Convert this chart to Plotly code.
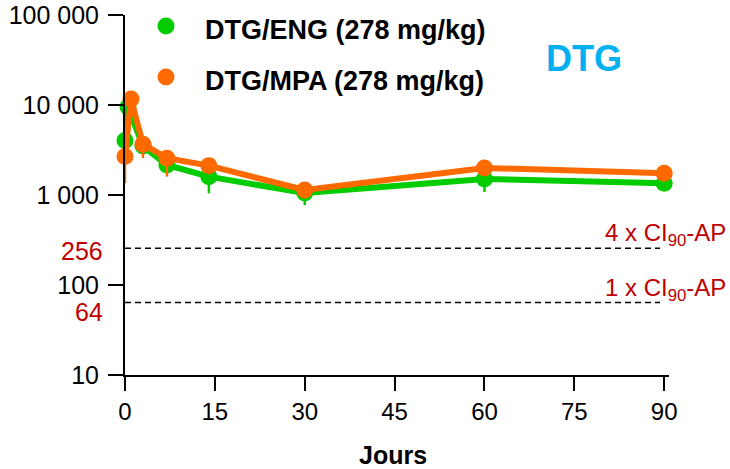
import plotly.graph_objects as go

# Sampling days and concentrations (ng/mL)
days_eng = [0, 0.5, 3, 7, 14, 30, 60, 90]
conc_eng = [4030, 9500, 3500, 2160, 1600, 1052, 1508, 1350]
err_eng_minus = [0, 0, 0, 0, 555, 278, 430, 0]

days_mpa = [0, 1, 3, 7, 14, 30, 60, 90]
conc_mpa = [2670, 11650, 3670, 2565, 2120, 1137, 2000, 1745]
err_mpa_minus = [1320, 0, 1100, 965, 0, 0, 0, 0]

# Reference thresholds (4x and 1x IC90 protein-adjusted)
thresholds = [256, 64]
threshold_labels = ["4 x CI<sub>90</sub>-AP", "1 x CI<sub>90</sub>-AP"]

y_tickvals = [10, 100, 1000, 10000, 100000]
y_ticktext = ["10", "100", "1 000", "10 000", "100 000"]
x_tickvals = [0, 15, 30, 45, 60, 75, 90]

GREEN = "#00CC00"
ORANGE = "#FF6A00"
RED = "#C00000"
BLUE = "#00B0F0"
FONT = "Liberation Sans, Arial, sans-serif"

W, H = 730, 469
ML, MR, MT, MB = 125, 61, 15, 94
PW = W - ML - MR
PH = H - MT - MB


def px(xp):
    return (xp - ML) / PW


def py(yp):
    return (H - MB - yp) / PH


fig = go.Figure()

# dashed threshold lines
for t in thresholds:
    fig.add_trace(go.Scatter(
        x=[0, 89.3], y=[t, t], mode="lines",
        line=dict(color="black", width=1.6, dash="6px,4px"),
        showlegend=False, hoverinfo="skip", cliponaxis=False,
    ))

for xs, ys, em, col in [
    (days_eng, conc_eng, err_eng_minus, GREEN),
    (days_mpa, conc_mpa, err_mpa_minus, ORANGE),
]:
    fig.add_trace(go.Scatter(
        x=xs, y=ys, mode="lines+markers",
        line=dict(color=col, width=6),
        marker=dict(color=col, size=17),
        error_y=dict(type="data", symmetric=False, array=[0] * len(ys),
                     arrayminus=em, color=col, thickness=2.5, width=0),
        showlegend=False, cliponaxis=False,
    ))

annotations = []
# threshold texts
for lab, base in zip(threshold_labels, [241.7, 296.7]):
    annotations.append(dict(
        text=lab, xref="paper", yref="paper", x=px(728), y=py(base - 7.5),
        xanchor="right", yanchor="middle", showarrow=False,
        font=dict(family=FONT, size=24, color=RED),
    ))
# red value labels beside the axis
for t, yc in zip(thresholds, [251, 312]):
    annotations.append(dict(
        text=str(t), xref="paper", yref="paper", x=px(105), y=py(yc),
        xanchor="right", yanchor="middle", showarrow=False,
        font=dict(family=FONT, size=25, color=RED),
    ))
# legend
for name, yc in [("DTG/ENG (278 mg/kg)", 30), ("DTG/MPA (278 mg/kg)", 81)]:
    annotations.append(dict(
        text="<b>" + name + "</b>", xref="paper", yref="paper",
        x=px(203), y=py(yc), xanchor="left", yanchor="middle",
        showarrow=False, font=dict(family=FONT, size=27, color="black"),
    ))
annotations.append(dict(
    text="<b>DTG</b>", xref="paper", yref="paper", x=px(584), y=py(58),
    xanchor="center", yanchor="middle", showarrow=False,
    font=dict(family=FONT, size=36, color=BLUE),
))
annotations.append(dict(
    text="<b>Jours</b>", xref="paper", yref="paper", x=px(393), y=py(455),
    xanchor="center", yanchor="middle", showarrow=False,
    font=dict(family=FONT, size=25, color="black"),
))

shapes = []
for col, yc in [(GREEN, 26), (ORANGE, 77)]:
    shapes.append(dict(
        type="circle", xref="paper", yref="paper",
        xsizemode="pixel", ysizemode="pixel",
        xanchor=px(166), yanchor=py(yc),
        x0=-8.5, x1=8.5, y0=-8.5, y1=8.5,
        fillcolor=col, line=dict(width=0),
    ))

fig.update_layout(
    width=W, height=H,
    margin=dict(l=ML, r=MR, t=MT, b=MB, pad=0),
    paper_bgcolor="white", plot_bgcolor="white",
    font=dict(family=FONT, size=25, color="black"),
    annotations=annotations, shapes=shapes,
    xaxis=dict(
        range=[0, 90.8], tickvals=x_tickvals, ticks="outside", ticklen=14,
        tickwidth=2, tickcolor="black", showline=True, linecolor="black",
        linewidth=2, showgrid=False, zeroline=False, automargin=False,
        tickfont=dict(size=24),
    ),
    yaxis=dict(
        type="log", range=[1, 5], tickvals=y_tickvals, ticktext=y_ticktext,
        ticks="outside", ticklen=15, tickwidth=2, tickcolor="black",
        showline=True, linecolor="black", linewidth=2, showgrid=False,
        zeroline=False, tickfont=dict(size=25), ticklabelstandoff=4,
        automargin=False,
    ),
)

fig.write_html("out.html")
